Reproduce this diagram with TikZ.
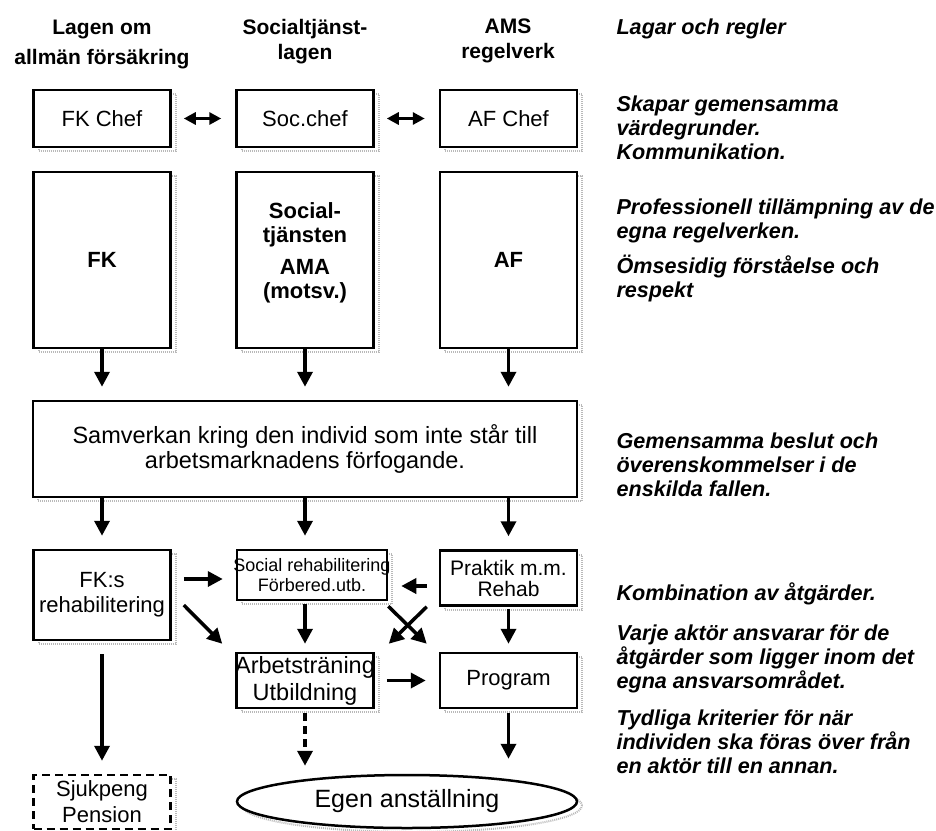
\documentclass[tikz,border=0pt]{standalone}
\usepackage{fontspec}
\setmainfont{Liberation Sans}
\usetikzlibrary{arrows.meta,shapes.geometric,shadows}

\tikzset{
  skugga/.style={general shadow={shadow xshift=5pt, shadow yshift=-4pt, draw=gray!55, line width=2pt, dash pattern=on 1pt off 1pt}},
  box/.style={draw, fill=white, line width=2.5pt, skugga, minimum width=137pt, minimum height=55pt, align=center, inner sep=0pt, font=\fontsize{22}{25}\selectfont},
  flow/.style={line width=3.5pt, -{Triangle[length=15pt,width=15pt]}},
  twoway/.style={line width=3pt, {Triangle[length=12pt,width=12pt]}-{Triangle[length=12pt,width=12pt]}, shorten <=12pt, shorten >=14pt},
  head/.style={anchor=base, align=center, font=\bfseries\fontsize{21}{25}\selectfont},
  note/.style={anchor=base west, align=left, font=\bfseries\itshape\fontsize{21.6}{23.7}\selectfont},
}

\begin{document}
\begin{tikzpicture}[x=1pt,y=-1pt]
    \useasboundingbox (0,0) rectangle (936,830);

    % Lagar och regler (base = sista raden)
    \node[head] (hLag) at (102,64) {Lagen om\\[5pt]allmän försäkring};
    \node[head] (hSoc) at (305,59) {Socialtjänst-\\lagen};
    \node[head] (hAms) at (508,58) {AMS\\regelverk};

    % Chefer
    \node[box, minimum height=57pt] (fkChef) at (102,118.5) {FK Chef};
    \node[box, minimum height=57pt] (socChef) at (305,118.5) {Soc.chef};
    \node[box, minimum height=57pt] (afChef) at (508.5,118.5) {AF Chef};
    \draw[twoway] (fkChef) -- (socChef);
    \draw[twoway] (socChef) -- (afChef);

    % Myndigheterna
    \node[box, minimum height=176pt, font=\bfseries\fontsize{22}{24}\selectfont] (fk) at (102,260) {FK};
    \node[box, minimum height=176pt, font=\bfseries\fontsize{22}{24}\selectfont] (soc) at (305,260) {Social-\\tjänsten\\[8pt]AMA\\(motsv.)\\[-6pt]\mbox{}};
    \node[box, minimum height=176pt, font=\bfseries\fontsize{22}{24}\selectfont] (af) at (508.5,260) {AF};

    \node[box, minimum width=544pt, minimum height=96pt, font=\fontsize{23.5}{24.5}\selectfont] (samv) at (305,449)
        {Samverkan kring den individ som inte står till\\arbetsmarknadens förfogande.};
    \foreach \a in {fk,soc,af}
        \draw[flow, shorten >=13pt] (\a) -- (\a |- samv.north);

    % Åtgärder
    \node[box, minimum height=90pt] (fkRehab) at (102,595) {FK:s\\rehabilitering};
    \node[box, minimum width=150pt, minimum height=50pt, font=\fontsize{18}{19.5}\selectfont] (socRehab) at (312,575)
        {\makebox[140pt]{Social rehabilitering}\\Förbered.utb.};
    \node[box, font=\fontsize{21}{21}\selectfont] (praktik) at (508.5,578) {Praktik m.m.\\Rehab};
    \node[box, font=\fontsize{23.5}{27}\selectfont] (arb) at (305,680.5) {\makebox[130pt]{Arbetsträning}\\Utbildning};
    \node[box] (prog) at (508.5,680.5) {Program};
    \foreach \a/\b in {fk/fkRehab,soc/socRehab,af/praktik}
        \draw[flow, shorten >=13pt] (samv.south -| \a) -- (\b.north -| \a);

    \draw[flow, shorten <=12pt, shorten >=13pt] ([yshift=-4pt]socRehab.west -| fkRehab.east) -- ([yshift=-4pt]socRehab.west);
    \draw[flow, shorten <=12pt, shorten >=13pt] ([yshift=-8pt]praktik.west) -- ([yshift=-8pt]praktik.west -| socRehab.east);
    \draw[flow] ([xshift=12pt,yshift=-10pt]fkRehab.east) -- ([xshift=-13pt,yshift=8pt]arb.north west);
    \draw[flow, shorten <=3pt, shorten >=8pt] (socRehab.south -| arb) -- (arb.north);
    \draw[flow] ([yshift=-5pt]socRehab.south east) -- ([xshift=-12pt,yshift=8pt]prog.north west);
    \draw[flow] ([xshift=-12pt]praktik.south west) -- ([xshift=14pt,yshift=8pt]arb.north east);
    \draw[flow, shorten <=2pt, shorten >=8pt] (praktik) -- (prog);
    \draw[flow, shorten <=12pt, shorten >=13pt] (arb) -- (prog);

    % Utfall
    \node[box, dash pattern=on 8pt off 5pt, minimum height=54pt, font=\fontsize{22}{26}\selectfont] (sjuk) at (102,802) {Sjukpeng\\Pension};
    \node[box, ellipse, minimum width=340pt, minimum height=53pt, font=\fontsize{25}{26}\selectfont] (egen) at (407,801.5) {Egen anställning};
    \draw[flow, shorten <=13pt, shorten >=13pt] (fkRehab) -- (sjuk);
    \draw[flow, dash pattern=on 8pt off 5pt, shorten <=4pt, shorten >=8pt] (arb) -- (arb |- egen.north);
    \draw[flow, shorten <=4pt, shorten >=15pt] (prog) -- (prog |- egen.north);

    % Kommentarer (base = sista raden)
    \node[note] (rLag) at (613,34) {Lagar och regler};
    \node[note] (rChef) at (613,159) {Skapar gemensamma\\värdegrunder.\\Kommunikation.};
    \node[note] (rProf) at (613,238) {Professionell tillämpning av de\\egna regelverken.};
    \node[note] (rOms) at (613,297) {Ömsesidig förståelse och\\respekt};
    \node[note] (rBesl) at (613,496) {Gemensamma beslut och\\överenskommelser i de\\enskilda fallen.};
    \node[note] (rKomb) at (613,600) {Kombination av åtgärder.};
    \node[note] (rAns) at (613,688) {Varje aktör ansvarar för de\\åtgärder som ligger inom det\\egna ansvarsområdet.};
    \node[note] (rKrit) at (613,773) {Tydliga kriterier för när\\individen ska föras över från\\en aktör till en annan.};
\end{tikzpicture}
\end{document}
